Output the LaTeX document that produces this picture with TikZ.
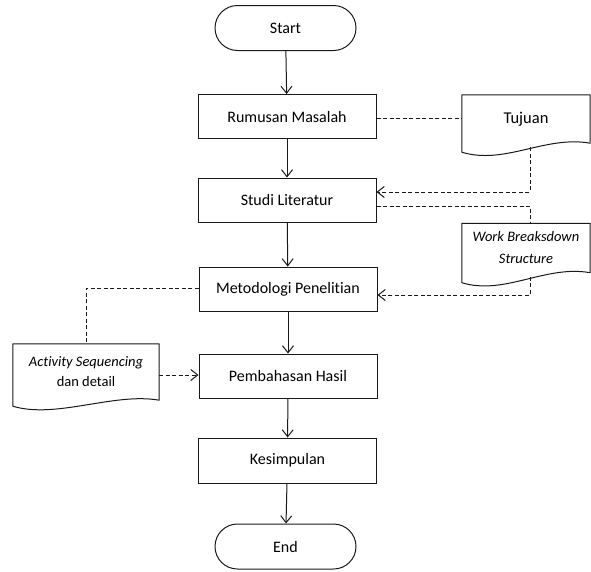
\documentclass[tikz,border=0pt]{standalone}
\usepackage{fontspec}
\setmainfont[Ligatures=NoCommon]{Carlito}
\usetikzlibrary{arrows.meta,calc}

\tikzset{
  flow/.style={draw=black!90, line width=1pt},
  box/.style={flow, rectangle, minimum width=178pt, minimum height=44pt,
    inner sep=0pt, font=\fontsize{16}{19}\selectfont},
  terminal/.style={flow, rectangle, rounded corners=22.5pt, minimum width=141pt,
    minimum height=45pt, inner sep=0pt, font=\fontsize{16}{19}\selectfont},
  docnode/.style={rectangle, inner sep=0pt, align=center},
  arrowline/.style={flow, -{Straight Barb[length=7pt,width=11pt,line width=1pt]}},
  dashline/.style={flow, dash pattern=on 4pt off 2.5pt},
  dasharrow/.style={dashline, -{Straight Barb[length=7pt,width=11pt,line width=1pt]}}
}

% Document outline: flat top, wavy bottom; the node spans from the top
% to the right end of the wave, the left end hangs #2 lower.
\newcommand{\docoutline}[2]{%
  \draw[flow, line join=round] (#1.north west) -- (#1.north east) -- (#1.south east)
    .. controls ([shift={(-45,-8)}]#1.south east) and ([shift={(43,#2+13)}]#1.south west)
    .. ([shift={(0,#2)}]#1.south west) -- cycle;}

\begin{document}
\begin{tikzpicture}[x=1pt, y=-1pt]
  \useasboundingbox (0,0) rectangle (591,571);

  % main flow
  \node[terminal] (start) at (285.5,28) {Start};
  \node[box] (rm) at (287,116.5) {Rumusan Masalah};
  \node[box] (sl) at (287,200) {Studi Literatur};
  \node[box] (mp) at (288,289) {Metodologi Penelitian};
  \node[box] (ph) at (288,376) {Pembahasan Hasil};
  \node[box, minimum height=45pt] (ks) at (287.5,460.5) {Kesimpulan};
  \node[terminal] (end) at (285.5,546.5) {End};

  % documents
  \node[docnode, minimum width=128pt, minimum height=48pt,
        font=\fontsize{16.5}{19}\selectfont] (tj) at (526,119) {Tujuan};
  \node[docnode, minimum width=128pt, minimum height=49pt,
        font=\fontsize{14.5}{22}\selectfont] (wbs) at (526,248)
        {\itshape Work Breaksdown\\ \itshape Structure};
  \node[docnode, minimum width=146pt, minimum height=56pt,
        font=\fontsize{14.5}{20}\selectfont] (act) at (86,372)
        {\itshape Activity Sequencing\\ dan detail};

  \docoutline{tj}{9}
  \docoutline{wbs}{10}
  \docoutline{act}{6}

  % solid flow arrows
  \draw[arrowline] (start) -- (rm);
  \draw[arrowline] (rm) -- (sl);
  \draw[arrowline] (sl) -- (mp);
  \draw[arrowline] (mp) -- (ph);
  \draw[arrowline] (ph) -- (ks);
  \draw[arrowline] (ks) -- (end);

  % dashed links
  \coordinate (tjfoot) at ([shift={(4,4)}]tj.south);
  \coordinate (wbsfoot) at ([shift={(4,4)}]wbs.south);
  \draw[dashline] (rm.east |- 0,118) -- (tj.west |- 0,118);
  \draw[dasharrow] (tjfoot) -- (tjfoot |- 0,192) -- (sl.east |- 0,192);
  \draw[dashline] (sl.east |- 0,206) -- (wbsfoot |- 0,206) -- (wbsfoot |- wbs.north);
  \draw[dasharrow] (wbsfoot) -- (wbsfoot |- 0,295) -- (mp.east |- 0,295);
  \draw[dashline] (mp.west |- 0,288) -- (act.north |- 0,288) -- (act.north);
  \draw[dasharrow] (act.east |- 0,375) -- (ph.west |- 0,375);
\end{tikzpicture}
\end{document}
